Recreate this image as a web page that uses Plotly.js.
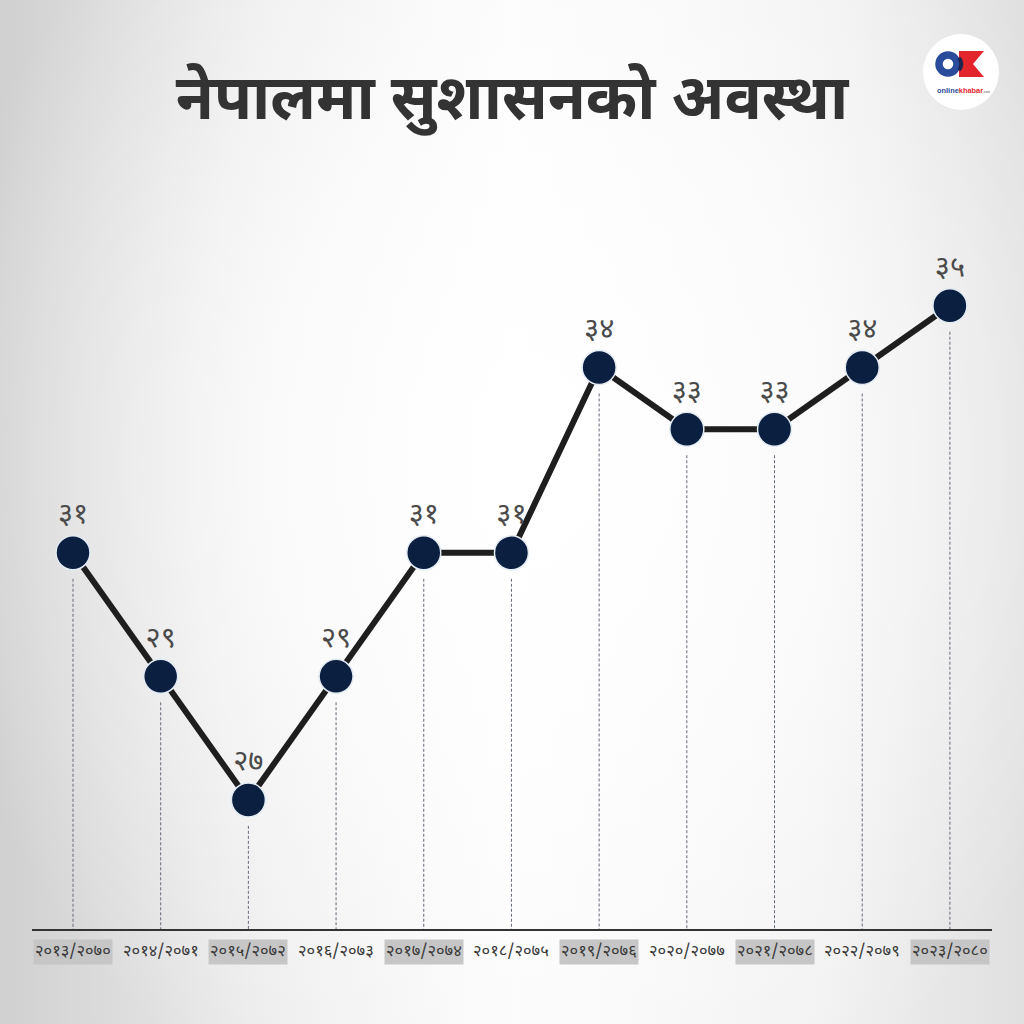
<!DOCTYPE html>
<html>
<head>
<meta charset="utf-8">
<script src="https://cdn.plot.ly/plotly-3.0.1.min.js"></script>
<style>
  html, body { margin: 0; padding: 0; width: 1024px; height: 1024px; overflow: hidden; }
  body {
    background:
      radial-gradient(ellipse 60% 70% at 52% 45%, rgba(255,255,255,1) 0%, rgba(255,255,255,0.7) 45%, rgba(255,255,255,0) 100%),
      linear-gradient(to right, #d0d0d0 0%, #ebebeb 25%, #fbfbfb 50%, #f1f1f1 80%, #e0e0e0 100%);
  }
  #chart { width: 1024px; height: 1024px; }
</style>
</head>
<body>
<div id="chart"></div>
<script>
// ---- data ----
const titleText = "नेपालमा सुशासनको अवस्था";
const categories = ["२०१३/२०७०", "२०१४/२०७१", "२०१५/२०७२", "२०१६/२०७३", "२०१७/२०७४", "२०१८/२०७५",
                    "२०१९/२०७६", "२०२०/२०७७", "२०२१/२०७८", "२०२२/२०७९", "२०२३/२०८०"];
const scores = [31, 29, 27, 29, 31, 31, 34, 33, 33, 34, 35];
const scoreLabels = ["३१", "२९", "२७", "२९", "३१", "३१", "३४", "३३", "३३", "३४", "३५"];

// ---- layout helpers ----
const yBase = 24.91;
const yTop = 36;
const dropGap = 0.42;
const devFont = "'Noto Sans Devanagari', 'Noto Sans', 'Lohit Devanagari', 'FreeSans', sans-serif";

const idx = categories.map((_, i) => i);

// dashed drop lines built from data
const dropX = [], dropY = [];
idx.forEach(i => { dropX.push(i, i, null); dropY.push(scores[i] - dropGap, yBase, null); });

const traces = [
  {
    x: dropX, y: dropY, mode: 'lines', hoverinfo: 'skip', showlegend: false,
    line: { color: '#646a78', width: 1, dash: '3px,2px' }
  },
  {
    x: idx, y: scores, mode: 'lines+markers+text', showlegend: false,
    text: scoreLabels, textposition: 'top center',
    textfont: { family: devFont, size: 29, color: '#4a4a4a' },
    line: { color: '#1e1e1e', width: 6 },
    marker: { size: 34, color: '#0b1f40', line: { color: '#e3ebf3', width: 1.5 } },
    cliponaxis: false
  }
];

// category labels with alternating grey boxes
const annotations = categories.map((c, i) => ({
  x: i, xref: 'x', y: -0.034, yref: 'paper', yanchor: 'middle', xanchor: 'center',
  text: c, showarrow: false,
  font: { family: devFont, size: 16.5, color: '#3a3a3a' },
  bgcolor: i % 2 === 0 ? '#c6c6c6' : 'rgba(0,0,0,0)',
  borderpad: 1
}));

// logo as inline svg
const logoSvg = `<svg xmlns="http://www.w3.org/2000/svg" width="78" height="78" viewBox="0 0 78 78">
<circle cx="39" cy="39" r="38" fill="#ffffff"/>
<polygon points="37,18 62,18 51,31 62,44 37,44" fill="#e2262b"/>
<circle cx="26" cy="31" r="9" fill="none" stroke="#2b4c9b" stroke-width="7.5"/>
<path d="M37,25 A9,9 0 0 1 37,37" fill="none" stroke="#1b2550" stroke-width="4"/>
<text x="15" y="60" font-family="Arial, sans-serif" font-size="7.4" font-weight="bold"><tspan fill="#2b4c9b">online</tspan><tspan fill="#e2262b">khabar</tspan><tspan fill="#888" font-size="3">.com</tspan></text>
</svg>`;
const logoUri = 'data:image/svg+xml;charset=utf-8,' + encodeURIComponent(logoSvg);

const layout = {
  width: 1024, height: 1024,
  paper_bgcolor: 'rgba(0,0,0,0)', plot_bgcolor: 'rgba(0,0,0,0)',
  margin: { l: 32, r: 32, t: 244, b: 95 },
  title: {
    text: '<b>' + titleText + '</b>',
    x: 0.5, xref: 'container', xanchor: 'center',
    y: 1 - 97 / 1024, yref: 'container', yanchor: 'middle',
    font: { family: devFont, size: 62, color: '#333333' }
  },
  xaxis: {
    range: [-0.4675, 10.48], showgrid: false, zeroline: false,
    showticklabels: false, ticks: '', showline: true, linecolor: '#333333', linewidth: 1.5,
    fixedrange: true
  },
  yaxis: { range: [yBase, yTop], visible: false, fixedrange: true },
  annotations: annotations,
  images: [{
    source: logoUri, xref: 'paper', yref: 'paper',
    x: (922 - 32) / 960, y: (929 - 33) / 685, sizex: 78 / 960, sizey: 78 / 685,
    xanchor: 'left', yanchor: 'top', sizing: 'stretch', layer: 'above'
  }],
  showlegend: false
};

Plotly.newPlot('chart', traces, layout, { displayModeBar: false, staticPlot: true });
</script>
</body>
</html>
